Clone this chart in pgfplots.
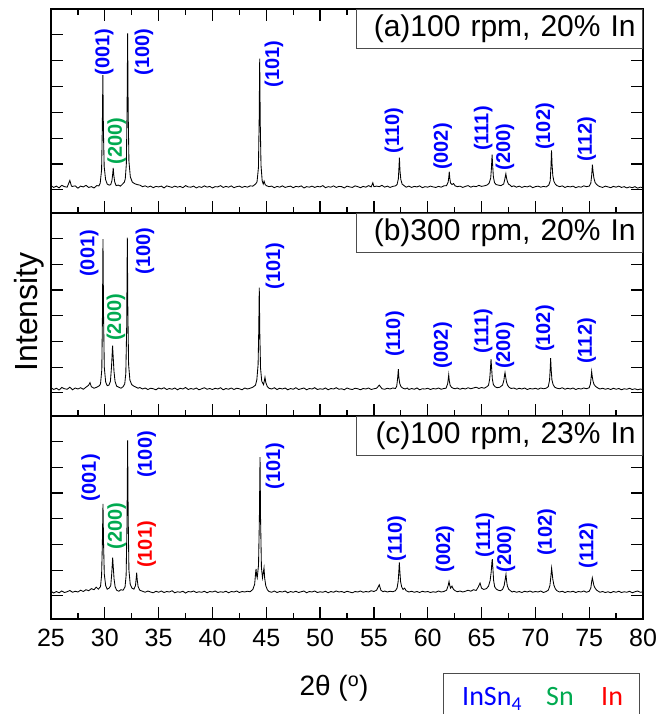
\documentclass[border=0pt]{standalone}
\usepackage{pgfplots}
\pgfplotsset{compat=1.18}
\usepackage{fontspec}
\setmainfont{Liberation Sans}
\newfontfamily\legfont{Carlito}
\definecolor{inblue}{RGB}{0,0,255}
\definecolor{sngreen}{RGB}{0,170,80}
\definecolor{inred}{RGB}{255,0,0}
\newcommand\lbl{\fontsize{20}{24}\selectfont\bfseries}
\newcommand\ttl{\fontsize{30}{36}\selectfont}
\pgfplotsset{
  panel/.style={scale only axis, width=592pt,
    xmin=25, xmax=80, ymin=-0.9, ymax=7.0,
    xtick={25,30,...,80}, minor x tick num=1,
    ytick={0,1,...,6}, yticklabels={}, 
    tick align=inside, major tick length=12pt, minor tick length=6pt,
    axis line style={line width=1.5pt},
    every tick/.style={black, line width=1.2pt},
    ytick pos=both, clip=false,
    /pgf/number format/assume math mode=true,
    ticklabel style={font=\fontsize{25}{30}\selectfont},
    xticklabel style={yshift=-7pt},
  },
  spec/.style={black, line width=0.85pt, no marks},
}
\tikzset{
  tbox/.style={draw=black!70, line width=0.8pt, fill=white, anchor=north east,
    minimum height=39pt, inner xsep=7pt, inner ysep=0pt, text width=272pt, align=right, font=\ttl},
}
\begin{document}
\begin{tikzpicture}
% ---------------- panel (a)
\begin{axis}[panel, height=204pt, at={(51pt,705pt)}, anchor=north west, xtick pos=both, xticklabels={}]
\addplot[spec] table {
25.00 0.16
25.25 0.09
25.50 0.14
25.75 0.07
26.00 0.17
26.25 0.12
26.50 0.10
26.75 0.36
26.90 0.14
27.00 0.13
27.25 0.15
27.50 0.06
27.75 0.14
28.00 0.11
28.25 0.17
28.50 0.09
28.75 0.12
29.00 0.07
29.25 0.16
29.45 0.15
29.57 0.25
29.70 0.77
29.77 2.50
29.82 4.44
29.87 2.28
29.94 0.90
30.07 0.40
30.22 0.22
30.40 0.18
30.55 0.20
30.66 0.35
30.73 0.60
30.78 0.85
30.83 0.58
30.92 0.30
31.05 0.16
31.25 0.18
31.45 0.14
31.65 0.22
31.82 0.30
31.90 0.42
32.00 1.00
32.07 3.20
32.12 6.06
32.17 3.00
32.24 1.10
32.37 0.50
32.55 0.30
32.75 0.24
33.00 0.20
33.25 0.18
33.50 0.12
33.75 0.15
34.00 0.10
34.25 0.14
34.50 0.08
34.75 0.13
35.00 0.11
35.25 0.14
35.50 0.07
35.75 0.15
36.00 0.12
36.25 0.09
36.50 0.14
36.75 0.10
37.00 0.13
37.25 0.08
37.50 0.16
37.75 0.11
38.00 0.10
38.25 0.14
38.50 0.07
38.75 0.12
39.00 0.09
39.25 0.15
39.50 0.10
39.75 0.13
40.00 0.07
40.25 0.12
40.50 0.11
40.75 0.16
41.00 0.09
41.25 0.13
41.50 0.10
41.75 0.15
42.00 0.08
42.25 0.12
42.50 0.14
42.75 0.09
43.00 0.13
43.25 0.10
43.50 0.15
43.75 0.14
44.00 0.22
44.14 0.30
44.27 0.85
44.34 2.70
44.39 5.08
44.44 2.60
44.51 0.95
44.62 0.35
44.72 0.22
44.80 0.33
44.90 0.20
45.00 0.16
45.25 0.12
45.50 0.14
45.75 0.08
46.00 0.13
46.25 0.10
46.50 0.15
46.75 0.09
47.00 0.12
47.25 0.14
47.50 0.08
47.75 0.13
48.00 0.11
48.25 0.15
48.50 0.07
48.75 0.12
49.00 0.10
49.25 0.14
49.50 0.09
49.75 0.13
50.00 0.11
50.25 0.16
50.50 0.08
50.75 0.12
51.00 0.10
51.25 0.15
51.50 0.09
51.75 0.13
52.00 0.12
52.25 0.07
52.50 0.14
52.75 0.11
53.00 0.09
53.25 0.15
53.50 0.12
53.75 0.08
54.00 0.13
54.25 0.10
54.50 0.16
54.75 0.11
54.90 0.27
55.00 0.12
55.25 0.14
55.50 0.12
55.75 0.17
56.00 0.10
56.25 0.14
56.50 0.09
56.75 0.13
57.00 0.15
57.15 0.20
57.27 0.42
57.32 0.80
57.37 1.24
57.42 0.75
57.50 0.40
57.62 0.22
57.80 0.16
58.00 0.10
58.25 0.14
58.50 0.09
58.75 0.13
59.00 0.11
59.25 0.15
59.50 0.08
59.75 0.12
60.00 0.10
60.25 0.14
60.50 0.11
60.75 0.09
61.00 0.13
61.25 0.10
61.50 0.15
61.75 0.16
61.90 0.30
61.96 0.50
62.00 0.70
62.05 0.45
62.12 0.26
62.25 0.20
62.40 0.24
62.55 0.15
62.75 0.12
63.00 0.14
63.25 0.09
63.50 0.13
63.75 0.16
64.00 0.10
64.25 0.14
64.50 0.12
64.75 0.17
65.00 0.13
65.25 0.15
65.50 0.18
65.70 0.25
65.85 0.45
65.92 0.85
65.98 1.36
66.03 0.95
66.10 0.50
66.20 0.28
66.35 0.20
66.55 0.18
66.80 0.16
67.05 0.22
67.16 0.40
67.22 0.55
67.26 0.62
67.31 0.48
67.40 0.32
67.50 0.22
67.65 0.18
67.80 0.12
68.00 0.15
68.25 0.10
68.50 0.14
68.75 0.09
69.00 0.13
69.25 0.11
69.50 0.15
69.75 0.08
70.00 0.12
70.25 0.14
70.50 0.10
70.75 0.13
71.00 0.11
71.25 0.18
71.38 0.35
71.45 0.90
71.50 1.52
71.55 1.00
71.62 0.55
71.72 0.33
71.85 0.22
72.00 0.16
72.25 0.12
72.50 0.15
72.75 0.09
73.00 0.13
73.25 0.11
73.50 0.14
73.75 0.08
74.00 0.12
74.25 0.10
74.50 0.15
74.75 0.12
75.00 0.14
75.15 0.25
75.23 0.55
75.30 0.97
75.36 0.70
75.44 0.45
75.55 0.28
75.70 0.20
75.85 0.15
76.00 0.12
76.25 0.09
76.50 0.14
76.75 0.11
77.00 0.08
77.25 0.13
77.50 0.10
77.75 0.14
78.00 0.09
78.25 0.12
78.50 0.07
78.75 0.11
79.00 0.08
79.25 0.12
79.50 0.06
79.75 0.10
80.00 0.08
};
\node[tbox] at (rel axis cs:1,1) {(a)100 rpm, 20\% In};
\node[rotate=90, font=\lbl, text=inblue] at (axis cs:29.95,5.33) {(001)};
\node[rotate=90, font=\lbl, text=sngreen] at (axis cs:31.1,1.9) {(200)};
\node[rotate=90, font=\lbl, text=inblue] at (axis cs:33.64,5.33) {(100)};
\node[rotate=90, font=\lbl, text=inblue] at (axis cs:45.72,4.87) {(101)};
\node[rotate=90, font=\lbl, text=inblue] at (axis cs:56.87,2.29) {(110)};
\node[rotate=90, font=\lbl, text=inblue] at (axis cs:61.39,1.67) {(002)};
\node[rotate=90, font=\lbl, text=inblue] at (axis cs:65.16,2.37) {(111)};
\node[rotate=90, font=\lbl, text=inblue] at (axis cs:67.18,1.65) {(200)};
\node[rotate=90, font=\lbl, text=inblue] at (axis cs:70.89,2.45) {(102)};
\node[rotate=90, font=\lbl, text=inblue] at (axis cs:74.77,1.96) {(112)};
\end{axis}
% ---------------- panel (b)
\begin{axis}[panel, height=203pt, at={(51pt,501pt)}, anchor=north west, xtick pos=bottom, xticklabels={}]
\addplot[spec] table {
25.00 0.20
25.25 0.13
25.50 0.18
25.75 0.11
26.00 0.21
26.25 0.16
26.50 0.14
26.75 0.22
27.00 0.12
27.25 0.19
27.50 0.15
27.75 0.20
28.00 0.14
28.25 0.22
28.50 0.30
28.62 0.40
28.75 0.24
29.00 0.18
29.25 0.22
29.50 0.28
29.60 0.35
29.72 0.90
29.78 3.00
29.83 5.98
29.88 3.10
29.95 1.00
30.08 0.42
30.22 0.28
30.38 0.30
30.52 0.45
30.62 1.00
30.68 1.50
30.72 1.84
30.77 1.45
30.85 0.85
30.95 0.45
31.10 0.26
31.30 0.22
31.50 0.18
31.70 0.24
31.85 0.35
31.95 0.75
32.03 2.50
32.09 6.04
32.14 3.20
32.21 1.10
32.33 0.50
32.50 0.32
32.70 0.26
32.90 0.22
33.10 0.18
33.25 0.21
33.50 0.15
33.75 0.19
34.00 0.13
34.25 0.18
34.50 0.16
34.75 0.12
35.00 0.19
35.25 0.15
35.50 0.20
35.75 0.13
36.00 0.17
36.25 0.14
36.50 0.19
36.75 0.12
37.00 0.18
37.25 0.15
37.50 0.21
37.75 0.13
38.00 0.17
38.25 0.14
38.50 0.19
38.75 0.12
39.00 0.16
39.25 0.20
39.50 0.14
39.75 0.17
40.00 0.13
40.25 0.18
40.50 0.15
40.75 0.20
41.00 0.12
41.25 0.17
41.50 0.14
41.75 0.19
42.00 0.13
42.25 0.18
42.50 0.16
42.75 0.12
43.00 0.19
43.25 0.15
43.50 0.18
43.75 0.22
44.00 0.30
44.12 0.50
44.24 1.10
44.30 2.40
44.35 4.10
44.40 2.30
44.47 0.95
44.58 0.45
44.75 0.32
44.88 0.60
44.96 0.40
45.10 0.24
45.25 0.18
45.50 0.15
45.75 0.20
46.00 0.13
46.25 0.18
46.50 0.15
46.75 0.19
47.00 0.12
47.25 0.17
47.50 0.14
47.75 0.20
48.00 0.13
48.25 0.16
48.50 0.19
48.75 0.12
49.00 0.17
49.25 0.15
49.50 0.20
49.75 0.13
50.00 0.16
50.25 0.14
50.50 0.19
50.75 0.12
51.00 0.17
51.25 0.15
51.50 0.20
51.75 0.14
52.00 0.16
52.25 0.12
52.50 0.19
52.75 0.15
53.00 0.13
53.25 0.18
53.50 0.16
53.75 0.12
54.00 0.17
54.25 0.15
54.50 0.19
54.75 0.13
55.00 0.16
55.25 0.18
55.50 0.30
55.75 0.16
56.00 0.14
56.25 0.18
56.50 0.15
56.75 0.19
57.00 0.17
57.12 0.26
57.20 0.55
57.27 0.92
57.32 0.60
57.40 0.36
57.52 0.24
57.70 0.18
57.90 0.15
58.10 0.19
58.25 0.13
58.50 0.17
58.75 0.14
59.00 0.19
59.25 0.12
59.50 0.16
59.75 0.15
60.00 0.18
60.25 0.13
60.50 0.17
60.75 0.15
61.00 0.19
61.25 0.14
61.50 0.17
61.70 0.18
61.85 0.35
61.91 0.55
61.95 0.70
62.00 0.48
62.08 0.30
62.20 0.22
62.35 0.18
62.55 0.16
62.75 0.19
63.00 0.14
63.25 0.18
63.50 0.15
63.75 0.20
64.00 0.16
64.25 0.19
64.50 0.22
64.75 0.17
65.00 0.21
65.25 0.18
65.50 0.24
65.65 0.30
65.76 0.55
65.83 0.95
65.88 1.31
65.93 1.00
66.00 0.55
66.10 0.32
66.25 0.24
66.45 0.20
66.70 0.22
66.95 0.30
67.08 0.50
67.14 0.70
67.18 0.79
67.23 0.65
67.32 0.42
67.42 0.30
67.55 0.22
67.75 0.17
68.00 0.19
68.25 0.14
68.50 0.18
68.75 0.15
69.00 0.19
69.25 0.13
69.50 0.17
69.75 0.15
70.00 0.18
70.25 0.14
70.50 0.19
70.75 0.16
71.00 0.18
71.20 0.24
71.32 0.50
71.38 0.95
71.42 1.35
71.47 0.90
71.54 0.50
71.65 0.32
71.80 0.22
72.00 0.18
72.25 0.16
72.50 0.20
72.75 0.14
73.00 0.18
73.25 0.15
73.50 0.19
73.75 0.13
74.00 0.17
74.25 0.15
74.50 0.19
74.75 0.16
75.00 0.20
75.12 0.35
75.18 0.60
75.23 0.83
75.28 0.65
75.36 0.45
75.46 0.32
75.60 0.25
75.80 0.19
76.00 0.15
76.25 0.18
76.50 0.14
76.75 0.17
77.00 0.13
77.25 0.18
77.50 0.14
77.75 0.17
78.00 0.12
78.25 0.16
78.50 0.14
78.75 0.18
79.00 0.13
79.25 0.16
79.50 0.12
79.75 0.15
80.00 0.13
};
\node[tbox] at (rel axis cs:1,1) {(b)300 rpm, 20\% In};
\node[rotate=90, font=\lbl, text=inblue] at (axis cs:28.56,5.43) {(001)};
\node[rotate=90, font=\lbl, text=sngreen] at (axis cs:31.04,2.94) {(200)};
\node[rotate=90, font=\lbl, text=inblue] at (axis cs:33.73,5.53) {(100)};
\node[rotate=90, font=\lbl, text=inblue] at (axis cs:45.81,4.93) {(101)};
\node[rotate=90, font=\lbl, text=inblue] at (axis cs:56.96,2.29) {(110)};
\node[rotate=90, font=\lbl, text=inblue] at (axis cs:61.39,1.84) {(002)};
\node[rotate=90, font=\lbl, text=inblue] at (axis cs:65.16,2.41) {(111)};
\node[rotate=90, font=\lbl, text=inblue] at (axis cs:67.18,1.84) {(200)};
\node[rotate=90, font=\lbl, text=inblue] at (axis cs:70.89,2.50) {(102)};
\node[rotate=90, font=\lbl, text=inblue] at (axis cs:74.77,2.02) {(112)};
\end{axis}
% ---------------- panel (c)
\begin{axis}[panel, height=203pt, at={(51pt,298pt)}, anchor=north west, xtick pos=bottom]
\addplot[spec] table {
25.00 0.18
25.25 0.11
25.50 0.17
25.75 0.12
26.00 0.19
26.25 0.13
26.50 0.16
26.75 0.21
27.00 0.14
27.25 0.18
27.50 0.15
27.75 0.22
28.00 0.17
28.25 0.24
28.50 0.20
28.75 0.28
29.00 0.24
29.20 0.34
29.40 0.26
29.60 0.36
29.70 0.80
29.77 2.00
29.83 3.58
29.88 2.10
29.95 0.85
30.08 0.40
30.22 0.26
30.40 0.30
30.55 0.40
30.64 0.85
30.69 1.20
30.73 1.49
30.78 1.15
30.86 0.65
30.96 0.35
31.10 0.22
31.30 0.18
31.50 0.24
31.70 0.22
31.88 0.35
31.98 0.80
32.06 2.80
32.12 6.05
32.17 3.10
32.24 1.00
32.36 0.45
32.52 0.30
32.70 0.26
32.85 0.40
32.92 0.70
32.96 0.90
33.01 0.62
33.10 0.35
33.25 0.22
33.50 0.18
33.75 0.14
34.00 0.19
34.25 0.15
34.50 0.12
34.75 0.18
35.00 0.14
35.25 0.19
35.50 0.13
35.75 0.17
36.00 0.15
36.25 0.20
36.50 0.12
36.75 0.16
37.00 0.14
37.25 0.18
37.50 0.11
37.75 0.17
38.00 0.15
38.25 0.19
38.50 0.13
38.75 0.16
39.00 0.14
39.25 0.18
39.50 0.12
39.75 0.17
40.00 0.15
40.25 0.19
40.50 0.13
40.75 0.16
41.00 0.14
41.25 0.18
41.50 0.12
41.75 0.17
42.00 0.15
42.25 0.19
42.50 0.13
42.75 0.17
43.00 0.15
43.25 0.18
43.50 0.16
43.75 0.25
43.92 0.45
44.00 0.85
44.05 1.05
44.10 0.80
44.16 0.70
44.28 1.20
44.36 3.00
44.42 5.40
44.47 3.00
44.55 1.10
44.65 0.70
44.74 0.95
44.79 1.09
44.85 0.70
44.95 0.40
45.10 0.24
45.25 0.17
45.50 0.14
45.75 0.19
46.00 0.13
46.25 0.17
46.50 0.15
46.75 0.19
47.00 0.12
47.25 0.17
47.50 0.14
47.75 0.18
48.00 0.13
48.25 0.16
48.50 0.19
48.75 0.12
49.00 0.17
49.25 0.15
49.50 0.19
49.75 0.13
50.00 0.16
50.25 0.14
50.50 0.18
50.75 0.12
51.00 0.17
51.25 0.14
51.50 0.19
51.75 0.15
52.00 0.17
52.25 0.13
52.50 0.18
52.75 0.15
53.00 0.12
53.25 0.17
53.50 0.15
53.75 0.19
54.00 0.14
54.25 0.17
54.50 0.15
54.75 0.20
55.00 0.17
55.25 0.22
55.50 0.43
55.65 0.22
55.85 0.16
56.00 0.19
56.25 0.15
56.50 0.18
56.75 0.16
57.00 0.20
57.15 0.30
57.25 0.55
57.31 0.90
57.36 1.30
57.41 0.95
57.48 0.55
57.58 0.35
57.70 0.25
57.85 0.30
58.00 0.20
58.25 0.15
58.50 0.18
58.75 0.14
59.00 0.17
59.25 0.13
59.50 0.18
59.75 0.15
60.00 0.17
60.25 0.13
60.50 0.16
60.75 0.14
61.00 0.19
61.25 0.15
61.50 0.17
61.75 0.22
61.90 0.40
61.98 0.56
62.04 0.42
62.12 0.30
62.25 0.38
62.38 0.26
62.55 0.20
62.75 0.16
63.00 0.19
63.25 0.15
63.50 0.18
63.75 0.22
64.00 0.18
64.25 0.24
64.50 0.21
64.70 0.35
64.86 0.50
65.00 0.30
65.20 0.25
65.45 0.28
65.65 0.38
65.80 0.60
65.90 0.95
65.96 1.30
66.00 1.43
66.05 1.10
66.12 0.60
66.22 0.35
66.38 0.26
66.55 0.22
66.75 0.20
66.95 0.25
67.10 0.40
67.20 0.65
67.27 0.84
67.32 0.60
67.40 0.38
67.52 0.26
67.68 0.20
67.85 0.15
68.00 0.18
68.25 0.14
68.50 0.17
68.75 0.13
69.00 0.18
69.25 0.15
69.50 0.19
69.75 0.14
70.00 0.17
70.25 0.15
70.50 0.19
70.75 0.13
71.00 0.17
71.20 0.22
71.35 0.40
71.44 0.75
71.51 1.08
71.56 0.90
71.62 0.65
71.72 0.42
71.85 0.28
72.00 0.20
72.25 0.15
72.50 0.18
72.75 0.13
73.00 0.17
73.25 0.15
73.50 0.18
73.75 0.13
74.00 0.17
74.25 0.15
74.50 0.19
74.75 0.14
75.00 0.18
75.15 0.30
75.23 0.55
75.29 0.70
75.35 0.58
75.44 0.40
75.55 0.30
75.70 0.22
75.85 0.18
76.00 0.14
76.25 0.17
76.50 0.13
76.75 0.16
77.00 0.12
77.25 0.17
77.50 0.14
77.75 0.18
78.00 0.13
78.25 0.16
78.50 0.14
78.75 0.18
79.00 0.12
79.25 0.16
79.50 0.19
79.75 0.14
80.00 0.16
};
\node[tbox] at (rel axis cs:1,1) {(c)100 rpm, 23\% In};
\node[rotate=90, font=\lbl, text=inblue] at (axis cs:28.69,4.60) {(001)};
\node[rotate=90, font=\lbl, text=sngreen] at (axis cs:31.1,2.72) {(200)};
\node[rotate=90, font=\lbl, text=inblue] at (axis cs:33.89,5.50) {(100)};
\node[rotate=90, font=\lbl, text=inred] at (axis cs:33.89,2.00) {(101)};
\node[rotate=90, font=\lbl, text=inblue] at (axis cs:45.81,5.05) {(101)};
\node[rotate=90, font=\lbl, text=inblue] at (axis cs:57.12,2.24) {(110)};
\node[rotate=90, font=\lbl, text=inblue] at (axis cs:61.60,1.82) {(002)};
\node[rotate=90, font=\lbl, text=inblue] at (axis cs:65.32,2.37) {(111)};
\node[rotate=90, font=\lbl, text=inblue] at (axis cs:67.27,1.82) {(200)};
\node[rotate=90, font=\lbl, text=inblue] at (axis cs:71.05,2.47) {(102)};
\node[rotate=90, font=\lbl, text=inblue] at (axis cs:74.92,1.96) {(112)};
\end{axis}
% ---------------- labels and legend
\node[rotate=90, font=\fontsize{32}{38}\selectfont] at (29pt,402pt) {Intensity};
\node[font=\fontsize{28}{34}\selectfont] at (334pt,26pt) {2θ (\textsuperscript{o})};
\draw[black!70, line width=0.8pt] (443pt,-10pt) rectangle (639pt,41pt);
\node[anchor=base west, inner sep=0pt, font=\legfont\fontsize{28}{33}\selectfont, text=inblue] at (462pt,8pt) {InSn\textsubscript{4}};
\node[anchor=base west, inner sep=0pt, font=\legfont\fontsize{28}{33}\selectfont, text=sngreen] at (546pt,8pt) {Sn};
\node[anchor=base west, inner sep=0pt, font=\legfont\fontsize{28}{33}\selectfont, text=inred] at (601pt,8pt) {In};
\pgfresetboundingbox
\path[use as bounding box] (0pt,0pt) rectangle (671pt,714pt);
\end{tikzpicture}
\end{document}
